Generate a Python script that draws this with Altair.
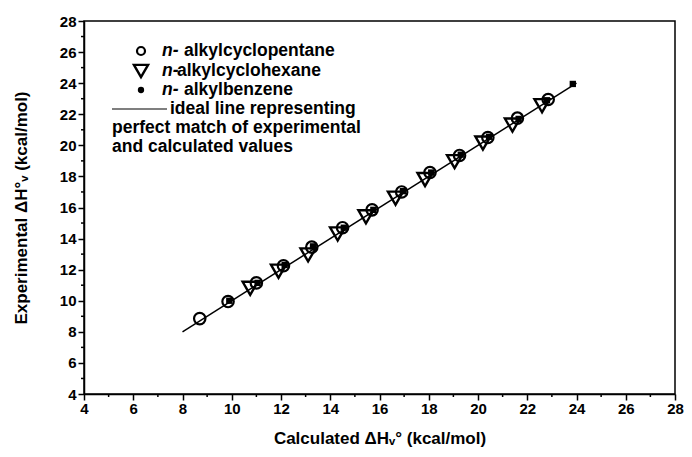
import altair as alt
import pandas as pd

# --- data ---
cp_x = [8.7, 9.85, 11.0, 12.1, 13.25, 14.5, 15.7, 16.9, 18.05, 19.25, 20.4, 21.6, 22.85]
cp_y = [8.85, 9.95, 11.15, 12.25, 13.45, 14.7, 15.85, 17.0, 18.25, 19.35, 20.5, 21.75, 22.95]
ch_x = [10.75, 11.9, 13.1, 14.3, 15.45, 16.65, 17.85, 19.05, 20.2, 21.4, 22.6]
ch_y = [10.8, 11.9, 12.95, 14.3, 15.4, 16.6, 17.8, 18.95, 20.15, 21.3, 22.55]
bz_x = [9.9, 11.05, 12.15, 13.3, 14.55, 15.75, 16.95, 18.1, 19.3, 20.45, 21.65, 22.8, 23.85]
bz_y = [10.0, 11.15, 12.3, 13.5, 14.7, 15.85, 17.05, 18.25, 19.4, 20.55, 21.7, 22.9, 23.95]
ideal = [8, 24]
major_ticks = list(range(4, 29, 2))
minor_ticks = list(range(5, 28, 2))

FONT = "Liberation Sans"
PAD_L, PAD_T = 76, 13
W, H = 591, 373

xs = alt.Scale(domain=[4, 28], nice=False, zero=False)
ys = alt.Scale(domain=[4, 28], nice=False, zero=False)

common = dict(values=major_ticks, grid=False, tickSize=6, tickWidth=1.5, domainWidth=1.5,
              domainColor="black", tickColor="black", labelFont=FONT, labelFontSize=15,
              labelFontWeight="bold", labelColor="black", titleFont=FONT, titleFontSize=17,
              titleFontWeight="bold", titleColor="black", labelFlush=False,
              labelOverlap=False, labelSeparation=0)

xaxis = alt.Axis(title="Calculated \u0394H\u1d65\u00b0 (kcal/mol)", titlePadding=14,
                 labelPadding=1, **common)
yaxis = alt.Axis(title="Experimental \u0394H\u00b0\u1d65 (kcal/mol)", titlePadding=29,
                 labelPadding=2, **common)

line_df = pd.DataFrame({"x": ideal, "y": ideal})
cp_df = pd.DataFrame({"x": cp_x, "y": cp_y})
ch_df = pd.DataFrame({"x": ch_x, "y": ch_y})
bz_df = pd.DataFrame({"x": bz_x, "y": bz_y})
minor_df = pd.DataFrame({"x": minor_ticks, "y": minor_ticks})

X = alt.X("x:Q", scale=xs, axis=xaxis)
Y = alt.Y("y:Q", scale=ys, axis=yaxis)

line = alt.Chart(line_df).mark_line(color="black", strokeWidth=1.5).encode(x=X, y=Y)

cp = alt.Chart(cp_df).mark_point(shape="circle", size=130, filled=False, color="black",
                                 strokeWidth=2.2, opacity=1).encode(x=X, y=Y)
ch = alt.Chart(ch_df).mark_point(shape="triangle-down", size=230, filled=False, color="black",
                                 strokeWidth=2.4, opacity=1).encode(x=X, y=Y)
bz = alt.Chart(bz_df).mark_point(shape="square", size=40, filled=True, color="black",
                                 opacity=1).encode(x=X, y=Y)

# minor ticks, placed through the shared scales
minor_x = alt.Chart(minor_df).mark_rule(color="black", strokeWidth=1.5).encode(
    x=X, y=alt.value(H), y2=alt.value(H + 3))
minor_y = alt.Chart(minor_df).mark_rule(color="black", strokeWidth=1.5).encode(
    y=Y, x=alt.value(0), x2=alt.value(-3))

# --- legend (drawn inside plot), positions given in page pixels ---
def px(x):
    return x - 8 - PAD_L

def py(y):
    return y - 8 - PAD_T

one = pd.DataFrame({"a": [0]})
leg_sym = alt.layer(
    alt.Chart(one).mark_point(shape="circle", size=64, filled=False,
        color="black", strokeWidth=2.2, opacity=1).encode(x=alt.value(px(141)), y=alt.value(py(51))),
    alt.Chart(one).mark_point(shape="triangle-down", size=200, filled=False,
        color="black", strokeWidth=2.4, opacity=1).encode(x=alt.value(px(141)), y=alt.value(py(71))),
    alt.Chart(one).mark_point(shape="circle", size=40, filled=True,
        color="black", opacity=1).encode(x=alt.value(px(141)), y=alt.value(py(90))),
    alt.Chart(one).mark_rule(color="black", strokeWidth=1.2).encode(
        x=alt.value(px(112)), x2=alt.value(px(167)), y=alt.value(py(109))),
)

def txt(s, x, y, italic=False):
    return alt.Chart(pd.DataFrame({"t": [s]})).mark_text(
        align="left", baseline="middle", font=FONT, fontSize=17.5, fontWeight="bold",
        fontStyle="italic" if italic else "normal", color="black").encode(
        text="t:N", x=alt.value(px(x)), y=alt.value(py(y)))

leg_txt = alt.layer(
    txt("n-", 162, 51, True), txt("alkylcyclopentane", 184, 51),
    txt("n-", 162, 71, True), txt("alkylcyclohexane", 177, 71),
    txt("n-", 162, 90, True), txt("alkylbenzene", 184, 90),
    txt("ideal line representing", 170, 109),
    txt("perfect match of experimental", 112, 128),
    txt("and calculated values", 112, 147),
)

chart = alt.layer(line, cp, ch, bz, minor_x, minor_y, leg_sym, leg_txt).properties(
    width=W, height=H,
    autosize=alt.AutoSizeParams(type="none"),
    padding={"left": PAD_L, "top": PAD_T, "right": 9, "bottom": 55},
).configure_view(stroke="black", strokeWidth=1.5).configure_axis(
    labelOverlap=False, labelSeparation=0)

chart.save("out.html", embed_options={"renderer": "svg", "actions": False})
